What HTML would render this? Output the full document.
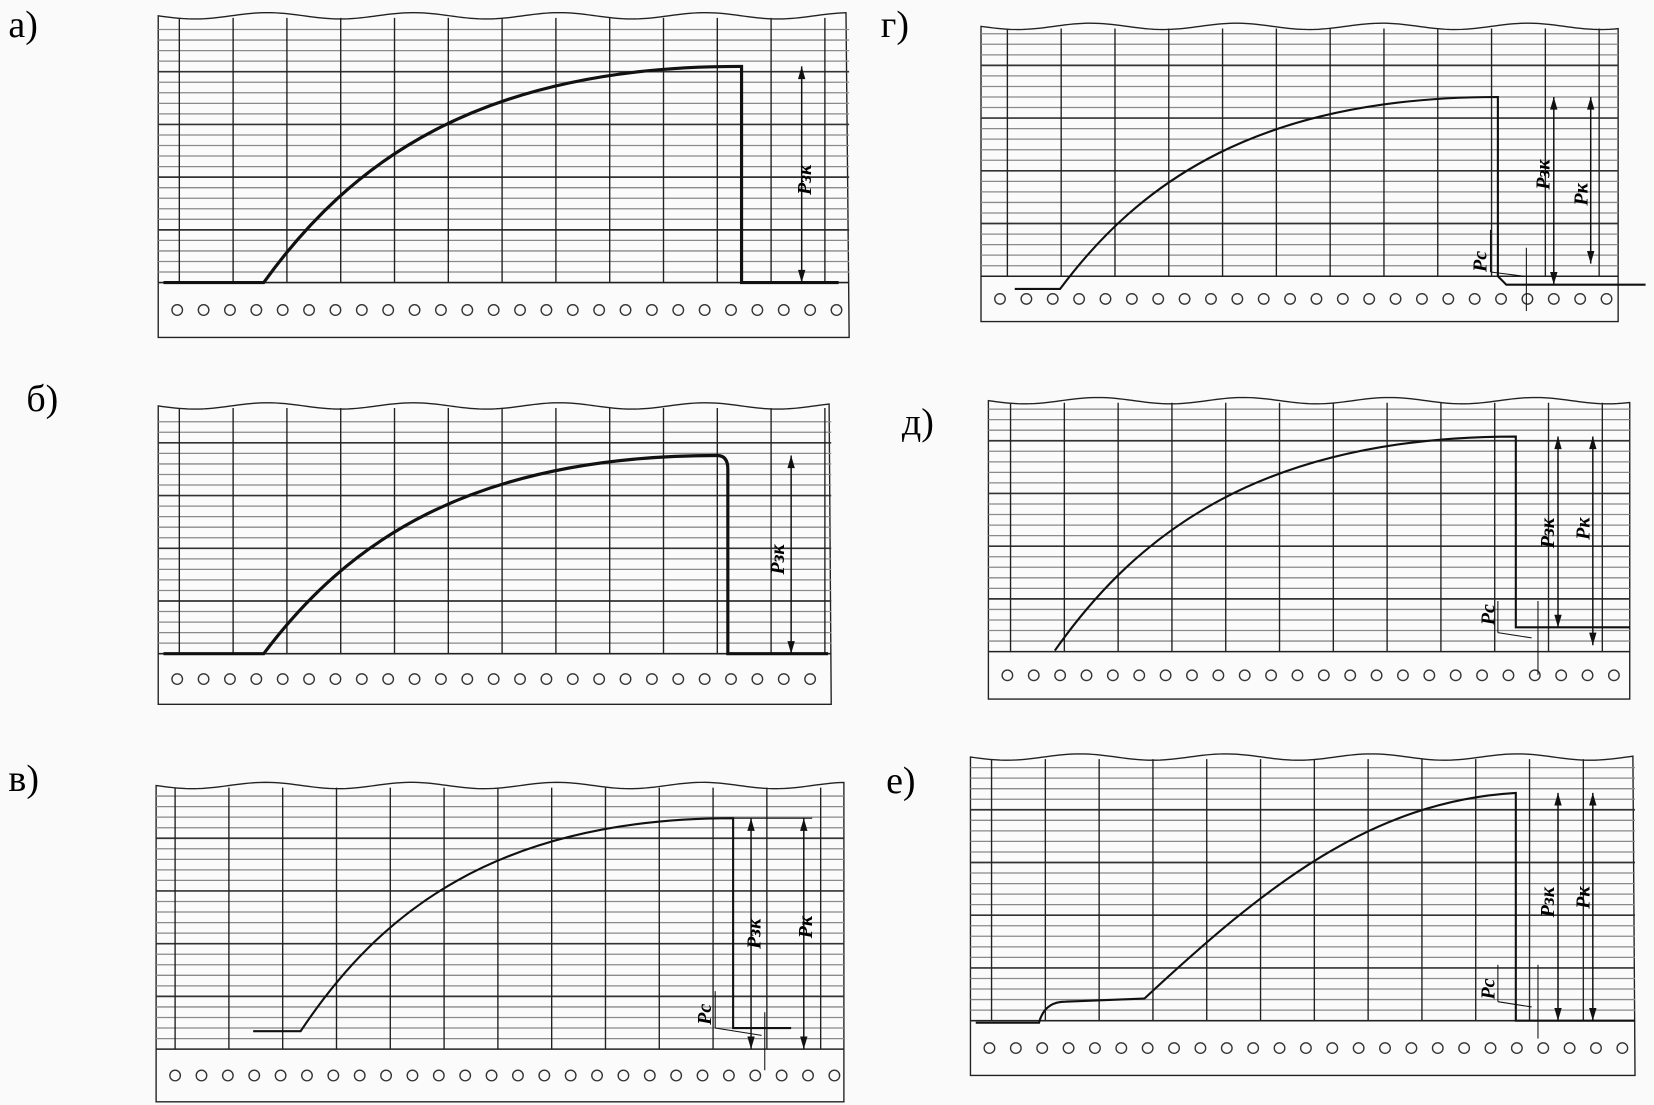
<!DOCTYPE html>
<html><head><meta charset="utf-8"><style>
html,body{margin:0;padding:0;background:#fafafa;}
svg{display:block}
text{font-family:"Liberation Serif",serif;}
</style></head><body>
<svg id="s" width="1654" height="1105" viewBox="0 0 1568 1048" preserveAspectRatio="none" xmlns="http://www.w3.org/2000/svg">
<text x="8" y="35" font-size="36">а)</text>
<text x="25" y="390" font-size="36">б)</text>
<text x="8" y="750" font-size="36">в)</text>
<text x="835" y="35" font-size="36">г)</text>
<text x="855" y="412" font-size="36">д)</text>
<text x="840" y="752" font-size="36">е)</text>
</svg>
<script>
var s=document.getElementById('s'),NS='http://www.w3.org/2000/svg';
function el(t,a){var e=document.createElementNS(NS,t);for(var k in a)e.setAttribute(k,a[k]);s.appendChild(e);return e;}
function line(x1,y1,x2,y2,w,c){el('line',{x1:x1,y1:y1,x2:x2,y2:y2,stroke:c||'#111','stroke-width':w||1.3});}
function panel(x0,x1,top,base,bot,vx){
 var d='M'+x0+' '+(top+5);
 for(var x=x0;x<=x1;x+=4){d+=' L'+x+' '+(top+3*Math.sin((x-x0)/22));}
 d+=' L'+x1+' '+bot+' L'+x0+' '+bot+' Z';
 el('path',{d:d,fill:'#fbfbfb',stroke:'#222','stroke-width':1.3});
 for(var y=base-10,i=1;y>top+6;y-=10,i++){
  line(x0,y,x1,y,(i%5==0)?1.6:1.2,(i%5==0)?'#333':'#8a8a8a');
 }
 for(var x=vx;x<x1-3;x+=51){line(x,top+2,x,base,1.3,'#222');}
 line(x0,base,x1,base,1.5,'#222');
 for(var x=x0+18;x<x1-8;x+=25){el('circle',{cx:x,cy:(base+bot)/2,r:5,fill:'none',stroke:'#333','stroke-width':1.3});}
}
function path(d,w){el('path',{d:d,fill:'none',stroke:'#111','stroke-width':w||2});}
function arrow(x,y1,y2){line(x,y1,x,y2,1.4);
 el('path',{d:'M'+(x-3.5)+' '+(y1+12)+' L'+x+' '+y1+' L'+(x+3.5)+' '+(y1+12)+'Z',fill:'#111'});
 el('path',{d:'M'+(x-3.5)+' '+(y2-12)+' L'+x+' '+y2+' L'+(x+3.5)+' '+(y2-12)+'Z',fill:'#111'});}
function lab(x,y,t){var e=el('text',{x:0,y:0,'font-size':19,'font-family':'Liberation Sans,sans-serif','font-style':'italic','font-weight':'bold',transform:'translate('+x+','+y+') rotate(-90)'});e.textContent=t;}
function rise(x0,y0,x1,y1){return 'M'+x0+' '+y0+' C'+(x0+(x1-x0)*0.18)+' '+(y0-(y0-y1)*0.55)+' '+(x0+(x1-x0)*0.45)+' '+y1+' '+x1+' '+y1;}
// a
panel(150,805,15,268,320,170);
path('M155 268 L250 268 '+rise(250,268,700,63).replace(/^M[^C]*/,'')+' L703 63 L703 268 L795 268',3);
arrow(760,63,268);lab(769,185,'Pзк');
// б
panel(150,788,385,620,668,170);
path('M155 620 L250 620 '+rise(250,620,680,432).replace(/^M[^C]*/,'')+' Q690 432 690 445 L690 620 L785 620',3);
arrow(750,432,620);lab(743,545,'Pзк');
// в
panel(148,800,745,995,1045,166);
path('M240 978 L285 978 '+rise(285,978,695,776).replace(/^M[^C]*/,'')+' L695 776 L695 975 L750 975',2);
line(690,776,770,776,1);
arrow(712,776,995);arrow(762,776,995);
line(678,940,678,975,1);line(678,975,722,982,1);line(725,960,725,1015,1);
lab(721,900,'Pзк');lab(770,890,'Pк');lab(674,972,'Pс');
// г
panel(930,1534,25,262,305,955);
path('M962 274 L1005 274 '+rise(1005,274,1420,92).replace(/^M[^C]*/,'')+' L1420 92 L1420 262 L1428 270 L1560 270',2);
arrow(1473,92,270);arrow(1508,92,250);
line(1413,218,1413,258,1);line(1413,258,1445,262,1);line(1447,235,1447,295,1);
lab(1469,180,'Pзк');lab(1505,195,'Pк');lab(1409,258,'Pс');
// д
panel(937,1545,380,618,663,958);
path('M1000 617 '+rise(1000,617,1437,414).replace(/^M[^C]*/,'')+' L1437 414 L1437 595 L1545 595',2);
arrow(1477,414,595);arrow(1510,414,612);
line(1420,570,1420,600,1);line(1420,600,1452,605,1);line(1458,570,1458,640,1);
lab(1473,520,'Pзк');lab(1507,512,'Pк');lab(1417,593,'Pс');
// е
panel(920,1550,718,968,1020,940);
path('M925 970 L985 970 Q990 950 1010 950 L1085 947 C1200 840 1300 760 1437 752 L1437 968 L1550 968',2);
arrow(1477,752,968);arrow(1510,752,968);
line(1420,915,1420,950,1);line(1420,950,1452,955,1);line(1458,915,1458,985,1);
lab(1473,870,'Pзк');lab(1507,862,'Pк');lab(1417,948,'Pс');
</script>
</body></html>
